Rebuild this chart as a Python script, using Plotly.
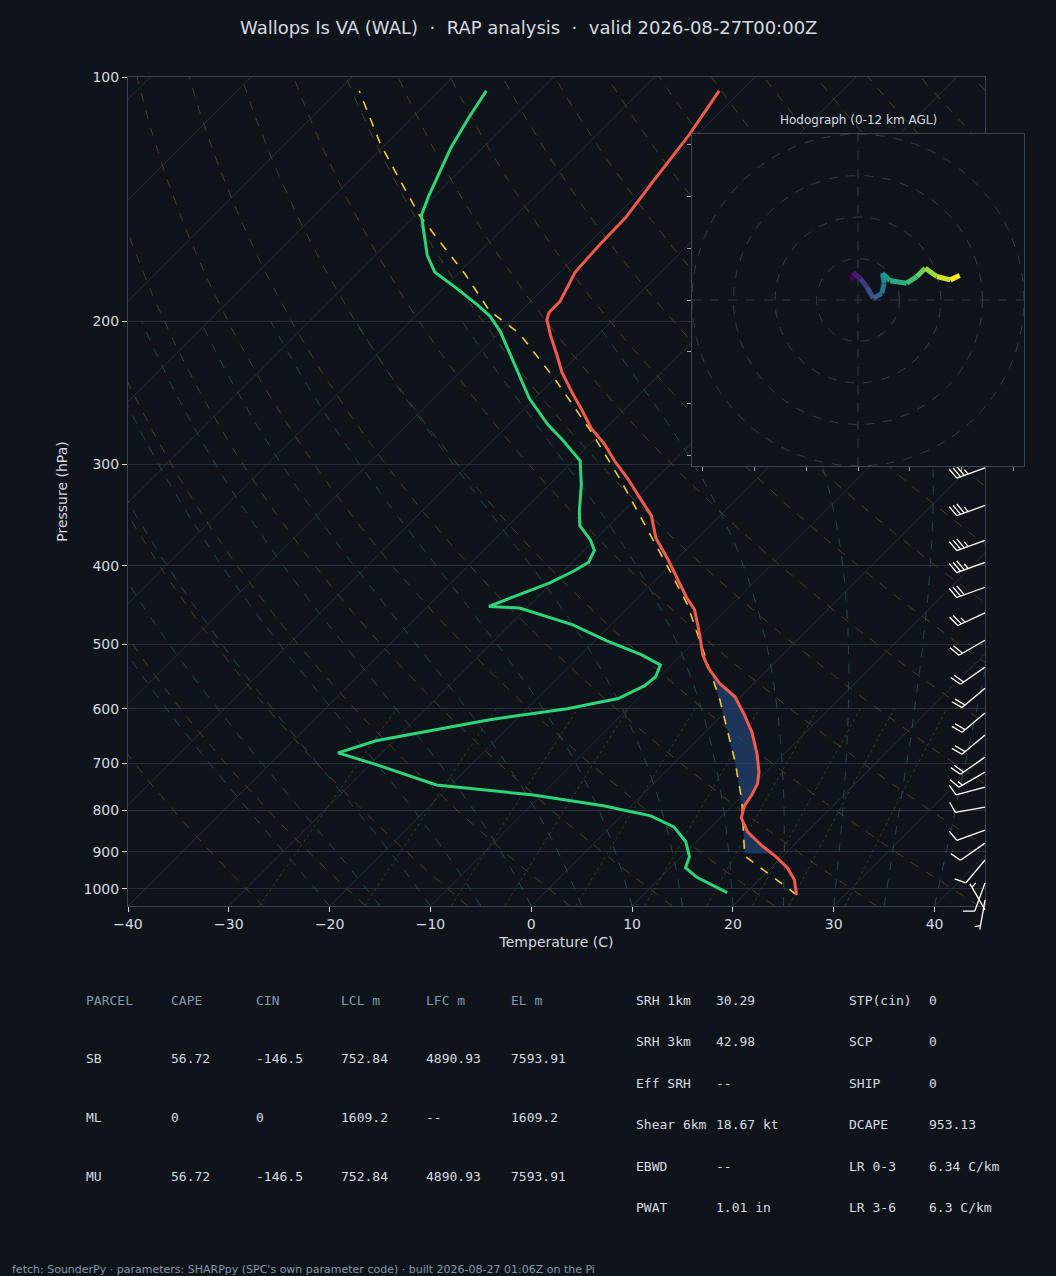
import numpy as np
import plotly.graph_objects as go
from plotly.colors import sample_colorscale

# ---------------- data ----------------
t_p = [1017, 975, 942, 911, 885, 851, 818, 790, 766, 742, 718, 682, 642, 612, 580, 558, 534, 515, 484, 453,
       438, 413, 393, 370, 347, 330, 313, 297, 283, 271, 257, 246, 231, 220, 208, 199, 195, 189, 174, 161,
       149, 134, 118, 104]
t_c = [25.2, 23.5, 21.6, 19.2, 16.9, 14.1, 12.1, 11.2, 10.85, 10.3, 9.3, 7.3, 4.7, 2.3, -0.55, -3.45, -6.1,
       -7.9, -10.4, -13.2, -15.15, -18.2, -20.8, -24.1, -26.8, -29.7, -32.7, -35.9, -38.6, -41.4, -44.2, -46.6,
       -49.9, -52.1, -54.7, -56.6, -57.1, -57.1, -58.5, -58.8, -58.9, -59.8, -60.8, -62.2]
td_p = [1011, 989, 967, 942, 913, 875, 839, 813, 790, 766, 745, 702, 680, 657, 619, 600, 583, 562, 548, 530,
        515, 495, 473, 451, 449, 435, 420, 406, 396, 383, 372, 357, 343, 318, 297, 280, 268, 249, 230, 206,
        197, 191, 182, 174, 166, 148, 140, 122, 112, 104]
td_c = [18.1, 15.9, 13.5, 11.5, 10.8, 8.95, 6.3, 2.9, -2.8, -11.0, -21.4, -29.6, -34.35, -31.8, -22.6, -16.0,
        -11.95, -10.6, -10.4, -11.1, -13.95, -18.8, -23.75, -30.7, -33.9, -32.2, -30.2, -29.0, -28.4, -29.0,
        -30.4, -32.9, -34.35, -36.8, -39.3, -43.1, -46.1, -50.5, -54.5, -60.0, -62.6, -64.9, -68.7, -72.4,
        -74.8, -79.4, -80.6, -83.2, -84.4, -85.3]
parcel_p = [1017, 911, 777, 694, 585, 494, 447, 405, 366, 313, 272, 236, 207, 194, 175, 159, 148, 134, 121, 104]
parcel_c = [25.2, 16.2, 10.35, 5.7, -1.75, -9.7, -14.35, -19.6, -25.05, -33.5, -41.4, -49.8, -57.95, -63.2,
            -69.2, -75.1, -79.6, -85.0, -90.5, -97.9]

barb_p = [303, 337, 372, 396, 425, 457, 494, 533, 566, 607, 646, 688, 718, 749, 793, 846, 878, 921, 983, 1032, 1061]
barb_dir = [250, 250, 250, 250, 250, 245, 240, 235, 230, 230, 230, 235, 240, 255, 260, 250, 235, 220, 200, 190, 330]
barb_spd = [35, 35, 35, 35, 30, 25, 20, 20, 20, 20, 20, 20, 15, 10, 10, 10, 10, 10, 10, 5, 5]

hodo_u = [-3.0, -2.3, 1.0, 4.2, 7.4, 11.5, 12.6, 11.8, 15.5, 23.5, 28.4, 32.4, 38.0, 44.5, 49.0]
hodo_v = [9.3, 13.2, 10.5, 6.4, 0.8, 3.2, 8.1, 12.9, 9.3, 8.1, 11.3, 15.3, 11.3, 9.7, 11.8]

p_ticks = [100, 200, 300, 400, 500, 600, 700, 800, 900, 1000]
t_ticks = [-40, -30, -20, -10, 0, 10, 20, 30, 40]

parcel_header = ["PARCEL", "CAPE", "CIN", "LCL m", "LFC m", "EL m"]
parcel_rows = [["SB", "56.72", "-146.5", "752.84", "4890.93", "7593.91"],
               ["ML", "0", "0", "1609.2", "--", "1609.2"],
               ["MU", "56.72", "-146.5", "752.84", "4890.93", "7593.91"]]
idx_left = [("SRH 1km", "30.29"), ("SRH 3km", "42.98"), ("Eff SRH", "--"),
            ("Shear 6km", "18.67 kt"), ("EBWD", "--"), ("PWAT", "1.01 in")]
idx_right = [("STP(cin)", "0"), ("SCP", "0"), ("SHIP", "0"),
             ("DCAPE", "953.13"), ("LR 0-3", "6.34 C/km"), ("LR 3-6", "6.3 C/km")]

# ---------------- helpers ----------------
W, H = 1056, 1276
SK = 80.5
P0 = 1050.0

def skx(T, p):
    return np.asarray(T, float) + SK * np.log10(P0 / np.asarray(p, float))

BG = "#0f141a"
TXT = "#d5dae0"
DIM = "#8797aa"

fig = go.Figure()

# background lines
pp = np.logspace(np.log10(1050), 2, 80)
for T0 in range(-160, 60, 10):
    fig.add_trace(go.Scatter(x=skx(np.full_like(pp, T0), pp), y=pp, mode="lines",
                             line=dict(color="#29333e", width=0.8), hoverinfo="skip", showlegend=False))
for th in range(-30, 220, 10):
    T = (th + 273.15) * (pp / 1000.0) ** 0.2857 - 273.15
    fig.add_trace(go.Scatter(x=skx(T, pp), y=pp, mode="lines",
                             line=dict(color="#4f4232", width=0.9, dash="dash"), hoverinfo="skip", showlegend=False))

def es(Tc):
    return 6.112 * np.exp(17.67 * Tc / (Tc + 243.5))

for T0 in range(-20, 45, 5):
    ps = [1050.0]
    Ts = [T0 + 273.15]
    p = 1050.0
    T = T0 + 273.15
    while p > 200:
        e = es(T - 273.15)
        rs = 0.622 * e / (p - e)
        dTdp = (287.0 * T + 2.501e6 * rs) / (1005.0 + 2.501e6 ** 2 * rs * 0.622 / (287.0 * T * T)) / p
        dp = -5.0
        T += dTdp * dp
        p += dp
        ps.append(p)
        Ts.append(T)
    fig.add_trace(go.Scatter(x=skx(np.array(Ts) - 273.15, ps), y=ps, mode="lines",
                             line=dict(color="#2a4a50", width=0.9, dash="dash"), hoverinfo="skip", showlegend=False))

pm = np.linspace(1050, 600, 20)
for w in [0.4, 1, 2, 3, 5, 8, 12, 16, 20, 28]:
    e = w * pm / (622.0 + w)
    l = np.log(e / 6.112)
    Td = 243.5 * l / (17.67 - l)
    fig.add_trace(go.Scatter(x=skx(Td, pm), y=pm, mode="lines",
                             line=dict(color="#34463a", width=0.8, dash="dot"), hoverinfo="skip", showlegend=False))

# CIN shading
gp = np.logspace(np.log10(905), np.log10(548), 120)
lg = np.log10(gp)
env_x = np.interp(-lg, -np.log10(t_p), skx(t_c, t_p))
par_x = np.interp(-lg, -np.log10(parcel_p), skx(parcel_c, parcel_p))
low_x = np.minimum(env_x, par_x)
fig.add_trace(go.Scatter(x=np.concatenate([env_x, low_x[::-1]]), y=np.concatenate([gp, gp[::-1]]),
                         fill="toself", fillcolor="rgba(34,64,110,0.75)", line=dict(width=0),
                         mode="lines", hoverinfo="skip", showlegend=False))

fig.add_trace(go.Scatter(x=skx(parcel_c, parcel_p), y=parcel_p, mode="lines",
                         line=dict(color="#f2c744", width=1.6, dash="dash"), showlegend=False))
fig.add_trace(go.Scatter(x=skx(td_c, td_p), y=td_p, mode="lines",
                         line=dict(color="#2fd47a", width=3), showlegend=False))
fig.add_trace(go.Scatter(x=skx(t_c, t_p), y=t_p, mode="lines",
                         line=dict(color="#f25a4f", width=3), showlegend=False))

# wind barbs on overlay axis (pixel x units, log pressure y)
bxs, bys = [], []
base_x = 985 - 128
for p, d, s in zip(barb_p, barb_dir, barb_spd):
    dr = np.deg2rad(d)
    dx, dy = np.sin(dr), np.cos(dr)
    px_, py_ = dy, -dx
    L = 30.0

    def pt(ox, oy, p=p):
        return base_x + ox, p * 10 ** (-oy / 812.0)
    a = pt(0, 0)
    b = pt(L * dx, L * dy)
    bxs += [a[0], b[0], None]; bys += [a[1], b[1], None]
    n_full = s // 10
    half = (s % 10) >= 5
    pos = 0.0
    for i in range(n_full):
        ox, oy = (L - pos) * dx, (L - pos) * dy
        a = pt(ox, oy)
        b = pt(ox + 11 * px_ + 4 * dx, oy + 11 * py_ + 4 * dy)
        bxs += [a[0], b[0], None]; bys += [a[1], b[1], None]
        pos += 4.0
    if half:
        if n_full == 0:
            pos = 4.0
        ox, oy = (L - pos) * dx, (L - pos) * dy
        a = pt(ox, oy)
        b = pt(ox + 5.5 * px_ + 2 * dx, oy + 5.5 * py_ + 2 * dy)
        bxs += [a[0], b[0], None]; bys += [a[1], b[1], None]
fig.add_trace(go.Scatter(x=bxs, y=bys, mode="lines", line=dict(color="white", width=1.3),
                         xaxis="x3", yaxis="y3", hoverinfo="skip", showlegend=False))

# hodograph
fig.add_trace(go.Scatter(x=[-80, 80, 80, -80, -80], y=[-80, -80, 80, 80, -80], mode="lines",
                         fill="toself", fillcolor=BG, line=dict(width=0),
                         xaxis="x4", yaxis="y4", hoverinfo="skip", showlegend=False))
ang = np.linspace(0, 2 * np.pi, 181)
for r in [20, 40, 60, 80]:
    fig.add_trace(go.Scatter(x=r * np.cos(ang), y=r * np.sin(ang), mode="lines",
                             line=dict(color="#323d49", width=1, dash="dash"),
                             xaxis="x4", yaxis="y4", hoverinfo="skip", showlegend=False))
fig.add_trace(go.Scatter(x=[-80, 80, None, 0, 0], y=[0, 0, None, -80, 80], mode="lines",
                         line=dict(color="#323d49", width=1, dash="dash"),
                         xaxis="x4", yaxis="y4", hoverinfo="skip", showlegend=False))
cols = sample_colorscale("Viridis", [i / (len(hodo_u) - 2) for i in range(len(hodo_u) - 1)])
for i in range(len(hodo_u) - 1):
    fig.add_trace(go.Scatter(x=hodo_u[i:i + 2], y=hodo_v[i:i + 2], mode="lines",
                             line=dict(color=cols[i], width=5),
                             xaxis="x4", yaxis="y4", hoverinfo="skip", showlegend=False))

# ---------------- layout ----------------
def px2fx(x): return x / W
def py2fy(y): return 1 - y / H

grid_c = "#28313b"
fig.update_layout(
    width=W, height=H, margin=dict(l=0, r=0, t=0, b=0, autoexpand=False),
    paper_bgcolor=BG, plot_bgcolor="rgba(0,0,0,0)", showlegend=False,
    font=dict(family="DejaVu Sans", color=TXT, size=13),
    xaxis=dict(domain=[px2fx(128), px2fx(985)], range=[-40, 45], tickvals=t_ticks,
               ticktext=[str(t).replace("-", "−") for t in t_ticks], anchor="y", automargin=False,
               showgrid=False, zeroline=False, showline=True, mirror=True, linecolor="#39434f",
               ticks="outside", ticklen=5, tickcolor=TXT, tickfont=dict(size=14, color=TXT),
               title=dict(text="Temperature (C)", font=dict(size=14, color=TXT), standoff=6)),
    yaxis=dict(domain=[py2fy(906), py2fy(77)], type="log", range=[np.log10(1050), 2], anchor="x",
               tickvals=p_ticks, ticktext=[str(p) for p in p_ticks], automargin=False,
               showgrid=True, gridcolor=grid_c, gridwidth=1, zeroline=False,
               showline=True, mirror=True, linecolor="#39434f",
               ticks="outside", ticklen=5, tickcolor=TXT, tickfont=dict(size=14, color=TXT),
               title=dict(text="Pressure (hPa)", font=dict(size=14, color=TXT), standoff=12)),
    xaxis3=dict(domain=[px2fx(128), px2fx(1010)], range=[0, 882], visible=False, anchor="y3"),
    yaxis3=dict(domain=[py2fy(930), py2fy(77)], type="log", range=[3 + 41 / 812.0, 2], visible=False,
                anchor="x3"),
    xaxis4=dict(domain=[px2fx(692), px2fx(1024)], range=[-80, 80], tickvals=[-75, -50, -25, 0, 25, 50, 75],
                showticklabels=False, ticks="outside", ticklen=4, tickcolor="#9aa5b1", anchor="y4",
                showgrid=False, zeroline=False, showline=True, mirror=True, linecolor="#3a4552"),
    yaxis4=dict(domain=[py2fy(466), py2fy(134)], range=[-80, 80], tickvals=[-75, -50, -25, 0, 25, 50, 75],
                showticklabels=False, ticks="outside", ticklen=4, tickcolor="#9aa5b1", anchor="x4",
                showgrid=False, zeroline=False, showline=True, mirror=True, linecolor="#3a4552"),
)

ann = []
ann.append(dict(text="Wallops Is VA (WAL)  ·  RAP analysis  ·  valid 2026-08-27T00:00Z", x=0.5, y=py2fy(27),
                xref="paper", yref="paper", showarrow=False, font=dict(size=18, color=TXT),
                xanchor="center", yanchor="middle"))
ann.append(dict(text="Hodograph (0-12 km AGL)", x=px2fx(858), y=py2fy(120), xref="paper", yref="paper",
                showarrow=False, font=dict(size=12, color=TXT), xanchor="center", yanchor="middle"))
mono = "DejaVu Sans Mono"
col_x = [84, 169, 254, 339, 424, 509]
row_y = [1000, 1058, 1117, 1176]
for j, h in enumerate(parcel_header):
    ann.append(dict(text=h, x=px2fx(col_x[j]), y=py2fy(row_y[0]), xref="paper", yref="paper", showarrow=False,
                    xanchor="left", yanchor="middle", font=dict(family=mono, size=13, color=DIM)))
for i, row in enumerate(parcel_rows):
    for j, v in enumerate(row):
        ann.append(dict(text=v, x=px2fx(col_x[j]), y=py2fy(row_y[i + 1]), xref="paper", yref="paper",
                        showarrow=False, xanchor="left", yanchor="middle",
                        font=dict(family=mono, size=13, color=TXT)))
idx_y = [1000, 1041, 1083, 1124, 1166, 1207]
for k, ((a, b), (c, d)) in enumerate(zip(idx_left, idx_right)):
    for xx, tt in ((634, a), (714, b), (847, c), (927, d)):
        ann.append(dict(text=tt, x=px2fx(xx), y=py2fy(idx_y[k]), xref="paper", yref="paper", showarrow=False,
                        xanchor="left", yanchor="middle", font=dict(family=mono, size=13, color=TXT)))
ann.append(dict(text="fetch: SounderPy · parameters: SHARPpy (SPC's own parameter code) · built 2026-08-27 01:06Z on the Pi",
                x=px2fx(10), y=py2fy(1269), xref="paper", yref="paper", showarrow=False, xanchor="left",
                yanchor="middle", font=dict(size=11, color=DIM)))
fig.update_layout(annotations=ann)

fig.write_html("out.html", config={"displayModeBar": False},
               post_script="document.body.style.margin='0';document.body.style.background='#0f141a';")
